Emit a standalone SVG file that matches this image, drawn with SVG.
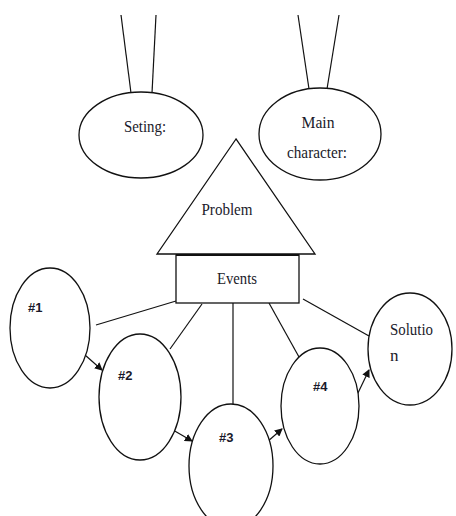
<svg xmlns="http://www.w3.org/2000/svg" width="456" height="516" viewBox="0 0 456 516">
<style>
.sh{fill:#fff;stroke:#111;stroke-width:1.3}
.ln{stroke:#111;stroke-width:1.2;fill:none}
.ar{stroke:#111;stroke-width:1.2;fill:none;marker-end:url(#ah)}
.t{font-family:"Liberation Serif","Times New Roman",serif;font-size:17px;fill:#1a1a2a}
.n{font-family:"Liberation Sans",Arial,sans-serif;font-size:13px;font-weight:bold;fill:#1a1a2a}
</style>
<defs>
<marker id="ah" markerWidth="8" markerHeight="8" refX="7" refY="4" orient="auto" markerUnits="userSpaceOnUse">
<path d="M0,0 L8,4 L0,8 z" fill="#111"/>
</marker>
</defs>
<rect width="456" height="516" fill="#fff"/>
<g id="connectors">
<line class="ln" x1="121" y1="15" x2="131" y2="93"/>
<line class="ln" x1="156" y1="15" x2="152" y2="93"/>
<line class="ln" x1="298" y1="15" x2="309" y2="89"/>
<line class="ln" x1="339" y1="15" x2="327" y2="89"/>
<line class="ln" x1="96" y1="325" x2="176" y2="301"/>
<line class="ln" x1="202" y1="304" x2="170" y2="349"/>
<line class="ln" x1="233" y1="303" x2="233" y2="405"/>
<line class="ln" x1="269" y1="303" x2="299" y2="357"/>
<line class="ln" x1="303" y1="299" x2="369" y2="336"/>
<line class="ar" x1="85" y1="355" x2="102" y2="370"/>
<line class="ar" x1="173" y1="430" x2="192" y2="441"/>
<line class="ar" x1="267" y1="442" x2="282" y2="429"/>
<line class="ar" x1="357" y1="395" x2="369" y2="370"/>
</g>
<g id="setting">
<ellipse class="sh" cx="141" cy="135" rx="62" ry="43"/>
<text class="t" x="145" y="132" text-anchor="middle" textLength="42" lengthAdjust="spacingAndGlyphs">Seting:</text>
</g>
<g id="main-character">
<ellipse class="sh" cx="320" cy="134" rx="61" ry="46"/>
<text class="t" x="318" y="128" text-anchor="middle" textLength="33" lengthAdjust="spacingAndGlyphs">Main</text>
<text class="t" x="317" y="158" text-anchor="middle" textLength="60" lengthAdjust="spacingAndGlyphs">character:</text>
</g>
<g id="problem">
<polygon class="sh" points="236,139 157,254 315,254"/>
<text class="t" x="227" y="215" text-anchor="middle" textLength="51" lengthAdjust="spacingAndGlyphs">Problem</text>
</g>
<g id="events">
<rect class="sh" x="176" y="255" width="123" height="48"/>
<line x1="176" y1="255" x2="299" y2="255" stroke="#111" stroke-width="2"/>
<text class="t" x="237" y="284" text-anchor="middle" textLength="40" lengthAdjust="spacingAndGlyphs">Events</text>
</g>
<g id="e1">
<ellipse class="sh" cx="50" cy="328" rx="40" ry="60"/>
<text class="n" x="28" y="312">#1</text>
</g>
<g id="e2">
<ellipse class="sh" cx="140" cy="397" rx="41" ry="63"/>
<text class="n" x="118" y="380">#2</text>
</g>
<g id="e3">
<ellipse class="sh" cx="231" cy="466" rx="42" ry="62"/>
<text class="n" x="219" y="442">#3</text>
</g>
<g id="e4">
<ellipse class="sh" cx="320" cy="406" rx="39" ry="58"/>
<text class="n" x="313" y="391">#4</text>
</g>
<g id="solution">
<ellipse class="sh" cx="410" cy="349" rx="42" ry="56"/>
<text class="t" x="390" y="335" textLength="43" lengthAdjust="spacingAndGlyphs">Solutio</text>
<text class="t" x="390" y="361">n</text>
</g>
</svg>
